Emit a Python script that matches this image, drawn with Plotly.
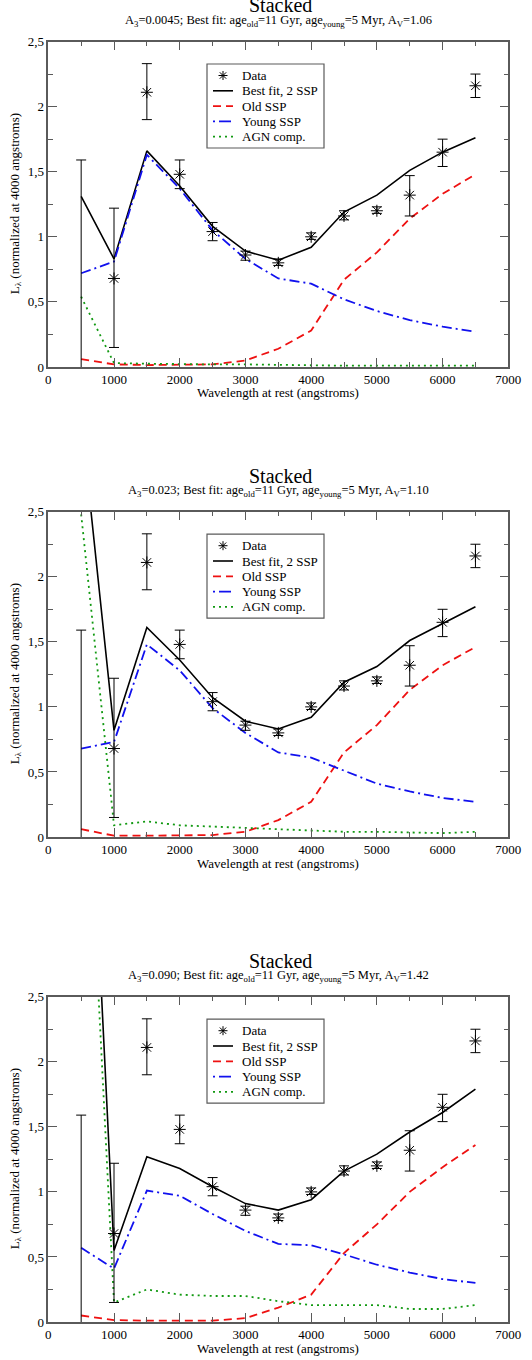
import plotly.graph_objects as go

# Wavelength grid (angstroms) shared by all panels
wavelength = [500, 1000, 1500, 2000, 2500, 3000, 3500, 4000, 4500, 5000, 5500, 6000, 6500]

# Stacked photometry (normalized at 4000 A) with lower / upper error limits
data_flux = [-0.01, 0.68, 2.11, 1.48, 1.04, 0.86, 0.80, 1.00, 1.16, 1.20, 1.32, 1.65, 2.16]
data_hi   = [1.59, 1.22, 2.33, 1.59, 1.11, 0.89, 0.83, 1.03, 1.20, 1.23, 1.47, 1.75, 2.25]
data_lo   = [-0.01, 0.15, 1.90, 1.37, 0.97, 0.82, 0.78, 0.98, 1.13, 1.18, 1.16, 1.54, 2.07]

# Panel 1: A3 = 0.0045
best_1  = [1.31, 0.83, 1.66, 1.39, 1.08, 0.89, 0.82, 0.92, 1.19, 1.32, 1.51, 1.65, 1.76]
old_1   = [0.06, 0.02, 0.015, 0.015, 0.02, 0.05, 0.14, 0.28, 0.67, 0.88, 1.14, 1.33, 1.48]
young_1 = [0.72, 0.81, 1.63, 1.37, 1.05, 0.83, 0.68, 0.64, 0.52, 0.43, 0.36, 0.31, 0.27]
agn_1   = [0.54, 0.03, 0.025, 0.02, 0.02, 0.02, 0.015, 0.015, 0.01, 0.01, 0.01, 0.01, 0.01]

# Panel 2: A3 = 0.023
best_2  = [3.22, 0.82, 1.61, 1.36, 1.07, 0.89, 0.83, 0.92, 1.19, 1.31, 1.51, 1.64, 1.77]
old_2   = [0.06, 0.01, 0.01, 0.015, 0.015, 0.04, 0.13, 0.27, 0.65, 0.86, 1.13, 1.32, 1.46]
young_2 = [0.68, 0.73, 1.48, 1.28, 0.99, 0.80, 0.65, 0.61, 0.51, 0.41, 0.35, 0.30, 0.27]
agn_2   = [2.48, 0.09, 0.12, 0.09, 0.08, 0.07, 0.06, 0.05, 0.04, 0.04, 0.035, 0.03, 0.04]

# Panel 3: A3 = 0.090
best_3  = [5.72, 0.55, 1.27, 1.18, 1.04, 0.91, 0.86, 0.94, 1.16, 1.29, 1.46, 1.61, 1.79]
old_3   = [0.05, 0.015, 0.01, 0.01, 0.01, 0.03, 0.11, 0.21, 0.53, 0.75, 1.00, 1.19, 1.36]
young_3 = [0.57, 0.41, 1.01, 0.97, 0.83, 0.70, 0.60, 0.59, 0.52, 0.44, 0.38, 0.33, 0.30]
agn_3   = [5.15, 0.15, 0.25, 0.21, 0.20, 0.20, 0.16, 0.13, 0.13, 0.13, 0.10, 0.10, 0.13]

subtitles = [
    "A<sub>3</sub>=0.0045; Best fit: age<sub>old</sub>=11 Gyr, age<sub>young</sub>=5 Myr, A<sub>V</sub>=1.06",
    "A<sub>3</sub>=0.023; Best fit: age<sub>old</sub>=11 Gyr, age<sub>young</sub>=5 Myr, A<sub>V</sub>=1.10",
    "A<sub>3</sub>=0.090; Best fit: age<sub>old</sub>=11 Gyr, age<sub>young</sub>=5 Myr, A<sub>V</sub>=1.42",
]
panel_title = "Stacked"
x_title = "Wavelength at rest (angstroms)"
y_title = "L<sub>λ</sub> (normalized at 4000 angstroms)"
legend_names = ["Data", "Best fit, 2 SSP", "Old SSP", "Young SSP", "AGN comp."]

x_tick_vals = [0, 1000, 2000, 3000, 4000, 5000, 6000, 7000]
x_tick_text = ["0", "1000", "2000", "3000", "4000", "5000", "6000", "7000"]
y_tick_vals = [0, 0.5, 1, 1.5, 2, 2.5]
y_tick_text = ["0", "0,5", "1", "1,5", "2", "2,5"]

panels = [
    (best_1, old_1, young_1, agn_1),
    (best_2, old_2, young_2, agn_2),
    (best_3, old_3, young_3, agn_3),
]

W, H = 532, 1360
FONT = "Liberation Serif, Times New Roman, DejaVu Serif, serif"
FRAME = "#5a5a5a"

C_BEST = "black"
C_OLD = "#ee1111"
C_YOUNG = "#1111ee"
C_AGN = "#119911"
DASH_OLD = "8px,5px"
DASH_YOUNG = "10px,4px,2px,4px"
DASH_AGN = "2px,4px"

# pixel layout of each panel's plot area (top, bottom)
plot_left, plot_right = 48.3, 508.3
panel_px = [(41.5, 367.0), (511.7, 837.0), (996.7, 1322.0)]


def px(p):
    return p / W


def py(p):
    return 1 - p / H


err_plus = [h - v for h, v in zip(data_hi, data_flux)]
err_minus = [v - l for v, l in zip(data_flux, data_lo)]

fig = go.Figure()
annotations = []
shapes = []
layout_axes = {}

for i, (best, old, young, agn) in enumerate(panels):
    n = i + 1
    xa = "x" if n == 1 else f"x{n}"
    ya = "y" if n == 1 else f"y{n}"

    common = dict(xaxis=xa, yaxis=ya, showlegend=False)
    fig.add_trace(go.Scatter(
        x=wavelength, y=best, mode="lines", name=legend_names[1],
        line=dict(color=C_BEST, width=1.6), **common))
    fig.add_trace(go.Scatter(
        x=wavelength, y=old, mode="lines", name=legend_names[2],
        line=dict(color=C_OLD, width=1.8, dash=DASH_OLD), **common))
    fig.add_trace(go.Scatter(
        x=wavelength, y=young, mode="lines", name=legend_names[3],
        line=dict(color=C_YOUNG, width=1.8, dash=DASH_YOUNG), **common))
    fig.add_trace(go.Scatter(
        x=wavelength, y=agn, mode="lines", name=legend_names[4],
        line=dict(color=C_AGN, width=1.8, dash=DASH_AGN), **common))
    fig.add_trace(go.Scatter(
        x=wavelength, y=data_flux, mode="markers", name=legend_names[0],
        marker=dict(symbol="asterisk-open", size=10, color="black",
                    line=dict(color="black", width=1)),
        error_y=dict(type="data", symmetric=False, array=err_plus,
                     arrayminus=err_minus, color="black", thickness=1, width=5),
        cliponaxis=False, **common))

    top, bot = panel_px[i]
    ax_common = dict(
        showline=True, mirror="allticks", linecolor=FRAME, linewidth=1.5,
        ticks="inside", tickcolor=FRAME, tickwidth=1.3, ticklen=9,
        showgrid=False, zeroline=False, automargin=False,
        tickfont=dict(family=FONT, size=13, color="black"),
    )
    layout_axes["xaxis" if n == 1 else f"xaxis{n}"] = dict(
        domain=[px(plot_left), px(plot_right)], anchor=ya, range=[0, 7000],
        tickmode="array", tickvals=x_tick_vals, ticktext=x_tick_text,
        minor=dict(ticks="inside", ticklen=5, tickcolor=FRAME, tickwidth=1.3,
                   tickmode="linear", tick0=0, dtick=500),
        **ax_common)
    layout_axes["yaxis" if n == 1 else f"yaxis{n}"] = dict(
        domain=[py(bot), py(top)], anchor=xa, range=[0, 2.5],
        tickmode="array", tickvals=y_tick_vals, ticktext=y_tick_text,
        minor=dict(ticks="inside", ticklen=5, tickcolor=FRAME, tickwidth=1.3,
                   tickmode="linear", tick0=0, dtick=0.25),
        **ax_common)

    cx = px((plot_left + plot_right) / 2)
    txt = dict(xref="paper", yref="paper", showarrow=False, yanchor="middle")
    annotations += [
        dict(text=panel_title, x=px(280), y=py(top - 36), xanchor="center",
             font=dict(family=FONT, size=20, color="black"), **txt),
        dict(text=subtitles[i], x=cx, y=py(top - 20.5), xanchor="center",
             font=dict(family=FONT, size=12.5, color="black"), **txt),
        dict(text=x_title, x=cx, y=py(bot + 26), xanchor="center",
             font=dict(family=FONT, size=13, color="black"), **txt),
        dict(text=y_title, x=px(15), y=py((top + bot) / 2), xanchor="center",
             textangle=-90, font=dict(family=FONT, size=13, color="black"), **txt),
    ]

    # legend box drawn in paper space
    lx0, lx1 = 207, 324
    ly0, ly1 = top + 22.5, top + 106.5
    shapes.append(dict(type="rect", xref="paper", yref="paper",
                       x0=px(lx0), x1=px(lx1), y0=py(ly0), y1=py(ly1),
                       line=dict(color=FRAME, width=1.2), fillcolor="white",
                       layer="above"))
    row_y = [ly0 + 11.5 + 15.3 * k for k in range(5)]
    sx0, sx1, scx = 213, 233, 223
    # asterisk glyph for the data entry
    r = 4.5
    d = r * 0.7071
    for (dx, dy) in [(0, r), (r, 0), (d, d), (d, -d)]:
        shapes.append(dict(type="line", xref="paper", yref="paper",
                           x0=px(scx - dx), x1=px(scx + dx),
                           y0=py(row_y[0] - dy), y1=py(row_y[0] + dy),
                           line=dict(color="black", width=1), layer="above"))
    samples = [(C_BEST, "solid", 1.6), (C_OLD, DASH_OLD, 1.8),
               (C_YOUNG, "2px,4px,12px,4px", 1.8), (C_AGN, DASH_AGN, 1.8)]
    for k, (col, dash, wd) in enumerate(samples, start=1):
        shapes.append(dict(type="line", xref="paper", yref="paper",
                           x0=px(sx0), x1=px(sx1), y0=py(row_y[k]), y1=py(row_y[k]),
                           line=dict(color=col, width=wd, dash=dash), layer="above"))
    for k, name in enumerate(legend_names):
        annotations.append(dict(text=name, x=px(240), y=py(row_y[k]), xanchor="left",
                                font=dict(family=FONT, size=13, color="black"), **txt))

fig.update_layout(
    width=W, height=H, margin=dict(l=0, r=0, t=0, b=0, autoexpand=False),
    paper_bgcolor="white", plot_bgcolor="white", showlegend=False,
    annotations=annotations, shapes=shapes, **layout_axes,
)

fig.write_html("out.html")
